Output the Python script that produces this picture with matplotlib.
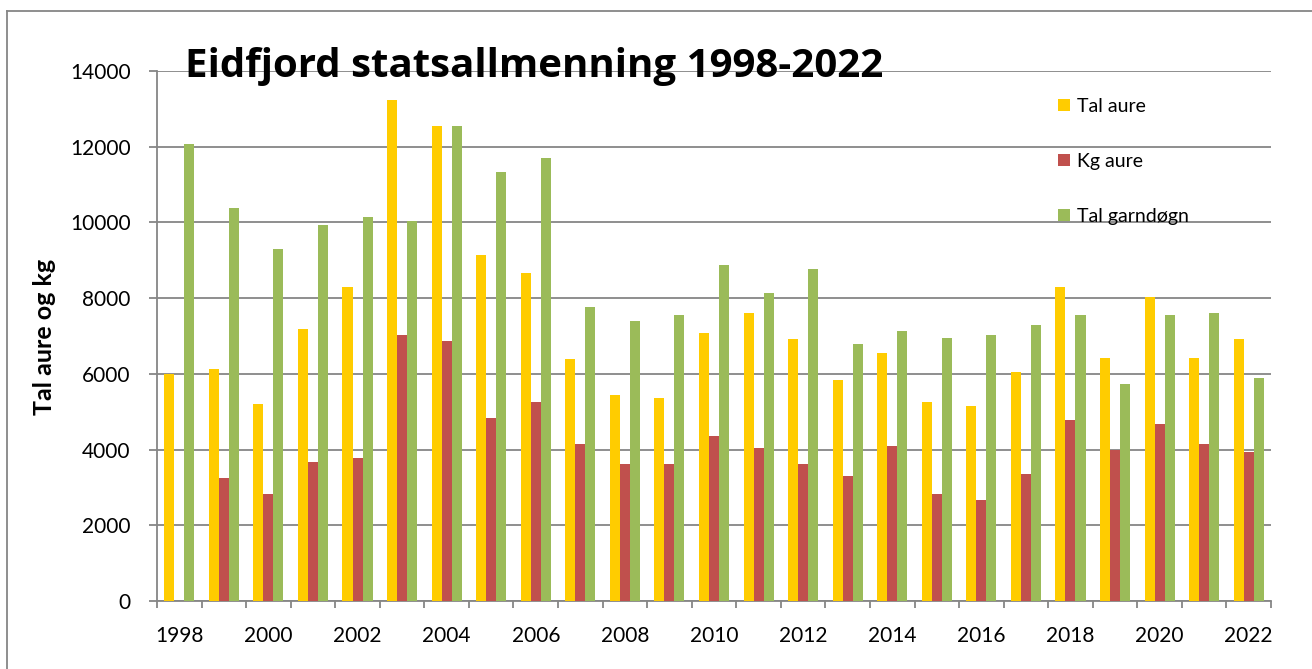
import matplotlib
matplotlib.use("Agg")
import matplotlib.pyplot as plt
import numpy as np
from matplotlib.lines import Line2D

years = list(range(1998, 2023))
tal_aure = [6000, 6120, 5210, 7180, 8290, 13230, 12540, 9140, 8660, 6380, 5430, 5370,
            7070, 7600, 6920, 5850, 6540, 5260, 5160, 6060, 8290, 6430, 8020, 6430, 6920]
kg_aure = [0, 3240, 2820, 3670, 3780, 7020, 6860, 4840, 5260, 4150, 3610, 3610,
           4360, 4040, 3610, 3300, 4100, 2820, 2670, 3350, 4790, 3990, 4680, 4150, 3940]
tal_garndogn = [12070, 10370, 9310, 9940, 10150, 10050, 12540, 11320, 11700, 7760, 7390, 7550,
                8880, 8130, 8770, 6800, 7120, 6960, 7020, 7280, 7550, 5740, 7550, 7600, 5900]
series_names = ["Tal aure", "Kg aure", "Tal garndøgn"]
colors = ["#FFCC00", "#C0504D", "#9BBB59"]
title = "Eidfjord statsallmenning 1998-2022"
ylabel = "Tal aure og kg"

plt.rcParams['font.family'] = ['Lato', 'DejaVu Sans']
W, H = 1312, 669
fig = plt.figure(figsize=(W / 100, H / 100), dpi=100)
ax = fig.add_axes([157 / W, 1 - 601 / H, (1271 - 157) / W, (601 - 71) / H])

grid_c = "#868686"
x = np.arange(len(years))
w = 0.225
for i, (vals, c, name) in enumerate(zip([tal_aure, kg_aure, tal_garndogn], colors, series_names)):
    ax.bar(x + (i - 1) * w, vals, width=w, color=c, label=name, zorder=3)

ax.set_xlim(-0.5, len(years) - 0.5)
ax.set_ylim(0, 14000)
ax.set_yticks(np.arange(0, 14001, 2000))
ax.yaxis.grid(True, color=grid_c, linewidth=1.3, zorder=0)
ax.tick_params(axis='y', labelsize=15, length=6, width=1.3, color=grid_c, pad=13)

ax.set_xticks(np.arange(-0.5, len(years), 1.0))
ax.set_xticklabels([])
ax.set_xticks(x, minor=True)
ax.set_xticklabels([str(y) if i % 2 == 0 else "" for i, y in enumerate(years)], minor=True)
ax.tick_params(axis='x', which='major', length=5, width=1.3, color=grid_c)
ax.tick_params(axis='x', which='minor', length=0, labelsize=15, pad=18)

for s in ['top', 'right']:
    ax.spines[s].set_visible(False)
for s in ['left', 'bottom']:
    ax.spines[s].set_color(grid_c)
    ax.spines[s].set_linewidth(1.3)

fig.text(45 / W, 1 - 337 / H, ylabel, rotation=90, fontsize=18, fontweight='bold',
         ha='center', va='center')
fig.text(185 / W, 1 - 77 / H, title, fontsize=29, fontweight='bold', ha='left', va='baseline',
         family=['Open Sans', 'DejaVu Sans'])

leg = ax.legend(loc='upper left', bbox_to_anchor=(1058 / W, 1 - 98 / H),
                bbox_transform=fig.transFigure, frameon=False, fontsize=14,
                handlelength=0.62, handleheight=0.62, handletextpad=0.35,
                labelspacing=1.95, borderpad=0, borderaxespad=0)

fig.add_artist(Line2D([7 / W, 1], [1 - 11 / H, 1 - 11 / H], color=grid_c, linewidth=1.3,
                      transform=fig.transFigure))
fig.add_artist(Line2D([7 / W, 7 / W], [0, 1 - 11 / H], color=grid_c, linewidth=1.3,
                      transform=fig.transFigure))

fig.savefig("out.png", dpi=100)
